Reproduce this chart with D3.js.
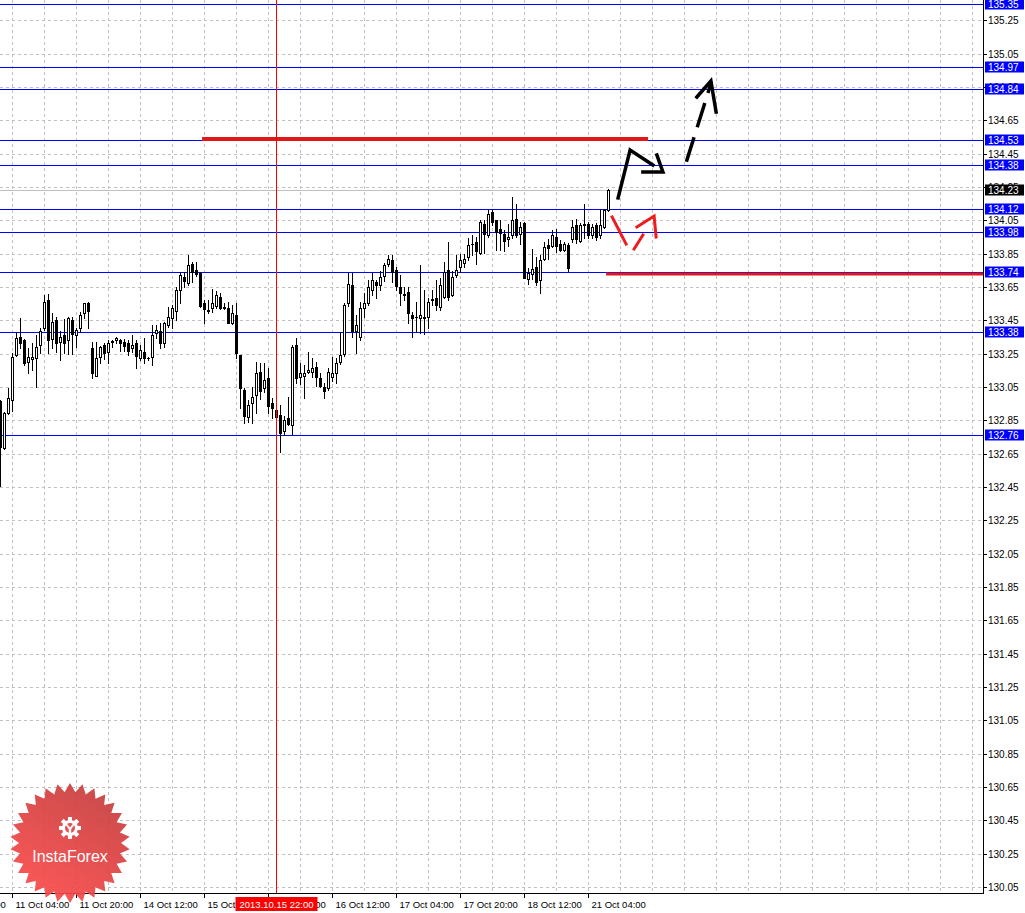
<!DOCTYPE html>
<html><head><meta charset="utf-8">
<script src="https://cdn.jsdelivr.net/npm/d3@7"></script>
<style>body{margin:0;background:#fff}svg{display:block}</style>
</head><body>
<svg id="c" width="1025" height="913"></svg>
<script>
// ---- data (EURJPY H1) ----
const open=[132.966,132.684,132.894,132.972,133.242,133.35,133.332,133.2,133.218,133.224,133.302,133.404,133.572,133.338,133.452,133.32,133.362,133.332,133.452,133.362,133.404,133.494,133.554,133.284,133.116,133.23,133.302,133.26,133.32,133.332,133.332,133.32,133.314,133.284,133.314,133.224,133.26,133.224,133.23,133.374,133.386,133.314,133.422,133.464,133.506,133.632,133.71,133.674,133.788,133.752,133.734,133.554,133.512,133.524,133.536,133.59,133.53,133.524,133.434,133.482,133.242,133.032,132.87,132.954,133.002,133.14,133.044,133.104,132.954,132.912,132.882,132.786,132.864,132.822,133.302,133.11,133.116,133.14,133.14,133.17,133.104,133.05,133.044,133.11,133.134,133.2,133.248,133.554,133.662,133.386,133.35,133.524,133.554,133.632,133.68,133.662,133.716,133.788,133.812,133.752,133.65,133.608,133.62,133.482,133.47,133.464,133.47,133.47,133.572,133.584,133.53,133.59,133.752,133.602,133.722,133.77,133.794,133.83,133.908,133.92,133.854,134.028,133.962,134.1,134.052,133.998,133.968,133.938,133.962,134.058,133.968,134.034,133.698,133.728,133.77,133.692,133.818,133.902,133.896,133.95,133.908,133.872,133.902,133.938,134.022,133.926,134.022,134.028,133.962,134.022,133.962,134.01,134.112];
const high=[132.972,132.9,133.044,133.254,133.38,133.464,133.338,133.284,133.314,133.362,133.404,133.602,133.608,133.494,133.47,133.386,133.458,133.47,133.47,133.404,133.5,133.554,133.56,133.32,133.32,133.296,133.314,133.332,133.332,133.35,133.338,133.338,133.332,133.362,133.332,133.302,133.344,133.23,133.422,133.422,133.434,133.44,133.53,133.542,133.65,133.74,133.74,133.842,133.8,133.8,133.74,133.572,133.572,133.638,133.626,133.614,133.554,133.56,133.542,133.554,133.242,133.044,132.972,133.05,133.2,133.194,133.194,133.164,132.984,132.942,132.942,132.876,132.99,133.302,133.344,133.194,133.182,133.26,133.224,133.2,133.134,133.074,133.164,133.23,133.224,133.38,133.554,133.734,133.734,133.482,133.56,133.614,133.692,133.734,133.692,133.746,133.794,133.842,133.842,133.77,133.722,133.65,133.65,133.5,133.56,133.782,133.632,133.584,133.632,133.692,133.704,133.8,133.92,133.746,133.842,133.848,133.848,133.944,133.962,133.95,134.052,134.052,134.112,134.118,134.052,134.052,133.992,134.028,134.19,134.148,134.04,134.04,133.764,133.878,133.83,133.842,133.92,133.938,133.992,133.998,133.932,133.92,133.914,134.052,134.058,134.034,134.148,134.04,134.028,134.034,134.118,134.118,134.238];
const low=[132.456,132.678,132.888,132.906,133.236,133.284,133.182,133.134,133.152,133.05,133.254,133.392,133.254,133.284,133.26,133.212,133.254,133.248,133.248,133.29,133.38,133.464,133.404,133.104,133.116,133.194,133.218,133.194,133.29,133.314,133.266,133.266,133.242,133.26,133.164,133.212,133.194,133.212,133.182,133.344,133.284,133.29,133.41,133.404,133.452,133.554,133.65,133.662,133.68,133.716,133.53,133.434,133.494,133.5,133.524,133.518,133.518,133.434,133.428,133.224,132.924,132.834,132.84,132.834,132.894,132.978,133.02,132.894,132.864,132.852,132.66,132.762,132.822,132.762,133.074,133.068,132.984,133.134,133.11,133.056,133.05,132.984,133.032,133.086,133.074,133.188,133.236,133.536,133.35,133.254,133.332,133.47,133.542,133.602,133.584,133.632,133.686,133.776,133.68,133.632,133.542,133.572,133.434,133.35,133.38,133.374,133.368,133.404,133.542,133.512,133.512,133.584,133.572,133.596,133.71,133.74,133.77,133.812,133.842,133.788,133.848,133.854,133.95,134.022,133.872,133.872,133.866,133.896,133.944,133.95,133.908,133.704,133.668,133.698,133.662,133.614,133.812,133.818,133.89,133.86,133.866,133.866,133.746,133.92,133.914,133.92,133.944,133.944,133.944,133.932,133.944,134.004,134.106];
const close=[132.69,132.894,132.984,133.23,133.344,133.314,133.194,133.23,133.23,133.29,133.386,133.56,133.332,133.44,133.314,133.35,133.314,133.464,133.368,133.392,133.482,133.554,133.506,133.134,133.224,133.29,133.254,133.314,133.326,133.344,133.314,133.296,133.266,133.302,133.236,133.272,133.224,133.224,133.362,133.392,133.314,133.434,133.47,133.524,133.632,133.722,133.686,133.782,133.74,133.728,133.536,133.518,133.506,133.554,133.602,133.524,133.524,133.434,133.494,133.254,133.044,132.876,132.942,132.99,133.134,133.026,133.092,132.936,132.924,132.87,132.774,132.852,132.828,133.29,133.104,133.134,133.134,133.152,133.164,133.11,133.056,133.026,133.14,133.134,133.194,133.242,133.542,133.668,133.386,133.422,133.524,133.554,133.65,133.692,133.662,133.71,133.782,133.818,133.74,133.656,133.614,133.602,133.494,133.464,133.47,133.482,133.464,133.56,133.578,133.542,133.662,133.74,133.59,133.71,133.752,133.812,133.818,133.902,133.908,133.866,134.04,133.968,134.088,134.04,133.98,133.974,133.926,133.95,134.052,133.962,134.01,133.704,133.734,133.758,133.68,133.812,133.89,133.884,133.962,133.896,133.872,133.908,133.764,134.01,133.938,134.022,134.028,133.962,134.01,133.95,134.022,134.112,134.232];

const levelPrices=[135.35,134.97,134.84,134.53,134.38,134.12,133.98,133.74,133.38,132.76];
const currentPrice=134.23;
const priceTicks=["130.05","130.25","130.45","130.65","130.85","131.05","131.25","131.45","131.65","131.85","132.05","132.25","132.45","132.65","132.85","133.05","133.25","133.45","133.65","133.85","134.05","134.25","134.45","134.65","134.85","135.05","135.25"];
const timeTickIdx=[-13,3,19,35,51,67,83,99,115,131,147];
const timeTickLabels=["10 Oct 12:00","11 Oct 04:00","11 Oct 20:00","14 Oct 12:00","15 Oct 04:00","15 Oct 20:00","16 Oct 12:00","17 Oct 04:00","17 Oct 20:00","18 Oct 12:00","21 Oct 04:00"];
const markerIdx=69, markerLabel="2013.10.15 22:00";
// annotation lines: [idx, price]
const redLineTop={from:50.4,to:161.9,price:134.538};
const redLineLow={from:151.4,to:246,price:133.728};
const blackArrow1=[[154.4,134.184],[157.4,134.472],[163.1,134.382]];
const blackHead1=[[160.6,134.34],[165.6,134.34],[164.1,134.442]];
const blackArrow2=[[171.6,134.412],[177.6,134.87]];
const blackHead2=[[174.1,134.79],[177.6,134.886],[178.9,134.7]];
const redArrowA=[[152.9,134.07],[156.4,133.908]];
const redArrowB=[[158.4,133.878],[160.6,133.962]];
const redHead=[[159.1,134.01],[163.4,134.076],[163.9,133.95]];

// ---- layout ----
const W=983, H=893;
const svg=d3.select("#c");
const x=d3.scaleLinear().domain([0,152]).range([0.5,608.5]);
const y=d3.scaleLinear().domain([130.05,135.372]).range([887,0]);
const py=p=>Math.round(y(p))+0.5;
const FONT="'Liberation Sans', Arial, sans-serif";

// grid
const grid=svg.append("g").attr("stroke","#c0c0c0").attr("stroke-dasharray","3,3").attr("shape-rendering","crispEdges");
priceTicks.forEach(t=>grid.append("line").attr("x1",0).attr("x2",W).attr("y1",py(+t)).attr("y2",py(+t)));
for(let i=3;x(i)<W;i+=8){grid.append("line").attr("x1",Math.floor(x(i))+0.5).attr("x2",Math.floor(x(i))+0.5).attr("y1",0).attr("y2",H);}

// level lines
const lv=svg.append("g").attr("shape-rendering","crispEdges");
levelPrices.forEach(p=>lv.append("line").attr("x1",0).attr("x2",W).attr("y1",py(p)).attr("y2",py(p)).attr("stroke","#0000ff"));
lv.append("line").attr("x1",0).attr("x2",W).attr("y1",py(currentPrice)).attr("y2",py(currentPrice)).attr("stroke","#c0c0c0");

// red horizontal lines
svg.append("line").attr("x1",x(redLineTop.from)).attr("x2",x(redLineTop.to)).attr("y1",y(redLineTop.price)).attr("y2",y(redLineTop.price)).attr("stroke","#e01818").attr("stroke-width",4);
svg.append("line").attr("x1",x(redLineLow.from)).attr("x2",Math.min(W,x(redLineLow.to))).attr("y1",y(redLineLow.price)).attr("y2",y(redLineLow.price)).attr("stroke","#e01818").attr("stroke-width",3);

// candles
const cg=svg.append("g").attr("shape-rendering","crispEdges");
open.forEach((o,i)=>{
  const c=close[i], h=high[i], l=low[i];
  const cx=Math.floor(x(i))+0.5;
  cg.append("line").attr("x1",cx).attr("x2",cx).attr("y1",py(h)-0.5).attr("y2",py(l)+0.5).attr("stroke","#000");
  const yt=py(Math.max(o,c)), yb=py(Math.min(o,c));
  if(yb-yt<1){
    cg.append("line").attr("x1",cx-1.5).attr("x2",cx+1.5).attr("y1",yt).attr("y2",yt).attr("stroke","#000");
  } else {
    cg.append("rect").attr("x",cx-1).attr("y",yt).attr("width",2).attr("height",yb-yt)
      .attr("fill",c>=o?"#fff":"#000").attr("stroke","#000");
  }
});

// vertical red marker
svg.append("line").attr("x1",Math.floor(x(markerIdx))+0.5).attr("x2",Math.floor(x(markerIdx))+0.5).attr("y1",0).attr("y2",H).attr("stroke","#ff0000").attr("shape-rendering","crispEdges");

// arrows
const ln=d3.line().x(d=>x(d[0])).y(d=>y(d[1]));
function path(pts,col,w,dash){const p=svg.append("path").attr("d",ln(pts)).attr("fill","none").attr("stroke",col).attr("stroke-width",w).attr("stroke-linecap","square").attr("stroke-linejoin","miter");if(dash)p.attr("stroke-dasharray",dash);return p;}
path(blackArrow1,"#000",3.5);
path(blackHead1,"#000",3.5);
path(blackArrow2,"#000",3.5,"22,14");
path(blackHead2,"#000",3.5);
path(redArrowA,"#ee1c1c",3);
path(redArrowB,"#ee1c1c",3);
path(redHead,"#ee1c1c",3);

// axes
const ax=svg.append("g").attr("shape-rendering","crispEdges");
ax.append("line").attr("x1",W+0.5).attr("x2",W+0.5).attr("y1",0).attr("y2",H+0.5).attr("stroke","#000");
ax.append("line").attr("x1",0).attr("x2",W+0.5).attr("y1",H+0.5).attr("y2",H+0.5).attr("stroke","#000");
priceTicks.forEach(t=>{
  ax.append("line").attr("x1",W).attr("x2",W+4).attr("y1",py(+t)).attr("y2",py(+t)).attr("stroke","#000");
  svg.append("text").attr("x",988).attr("y",py(+t)+3.5).attr("font-family",FONT).attr("font-size","10px").attr("fill","#000").text(t);
});
timeTickIdx.forEach((ti,k)=>{
  const tx=Math.floor(x(ti))+0.5;
  ax.append("line").attr("x1",tx).attr("x2",tx).attr("y1",H).attr("y2",H+5).attr("stroke","#000");
  svg.append("text").attr("x",tx+3).attr("y",908).attr("font-family",FONT).attr("font-size","9.5px").attr("fill","#000").text(timeTickLabels[k]);
});

// level labels
const fmt=d3.format(".2f");
levelPrices.forEach(p=>{
  svg.append("rect").attr("x",985).attr("y",py(p)-6).attr("width",39).attr("height",11).attr("fill","#0000ff");
  svg.append("text").attr("x",988).attr("y",py(p)+3.5).attr("font-family",FONT).attr("font-size","10px").attr("fill","#fff").text(fmt(p));
});
svg.append("rect").attr("x",985).attr("y",py(currentPrice)-6).attr("width",39).attr("height",11).attr("fill","#000");
svg.append("text").attr("x",988).attr("y",py(currentPrice)+3.5).attr("font-family",FONT).attr("font-size","10px").attr("fill","#fff").text(fmt(currentPrice));

// marker label
const mx=Math.floor(x(markerIdx))+0.5;
svg.append("rect").attr("x",mx-41).attr("y",897).attr("width",82).attr("height",14).attr("fill","#ff0000");
svg.append("text").attr("x",mx).attr("y",908).attr("text-anchor","middle").attr("font-family",FONT).attr("font-size","9.5px").attr("fill","#fff").text(markerLabel);

// logo
const defs=svg.append("defs");
const gr=defs.append("linearGradient").attr("id","lg").attr("x1","0.8").attr("y1","0").attr("x2","0.2").attr("y2","1");
gr.append("stop").attr("offset","0").attr("stop-color","#c43c3c");
gr.append("stop").attr("offset","1").attr("stop-color","#ff4a4a");
const cxL=70, cyL=843, N=30, R=60, r=51;
const pts=[];
for(let k=0;k<2*N;k++){const a=-Math.PI/2+k*Math.PI/N;const rr=k%2===0?R:r;pts.push([cxL+rr*Math.cos(a),cyL+rr*Math.sin(a)]);}
const logo=svg.append("g").attr("opacity",0.92);
logo.append("path").attr("d","M"+pts.map(p=>p.join(",")).join("L")+"Z").attr("fill","url(#lg)");
// gear icon
const gx=70, gy=828;
const teeth=[];
for(let k=0;k<8;k++){const a=k*Math.PI/4;teeth.push(k);}
teeth.forEach(k=>logo.append("rect").attr("x",gx-2).attr("y",gy-11).attr("width",4).attr("height",5).attr("fill","#fff").attr("transform",`rotate(${k*45},${gx},${gy})`));
logo.append("circle").attr("cx",gx).attr("cy",gy).attr("r",8).attr("fill","#fff");
logo.append("circle").attr("cx",gx).attr("cy",gy).attr("r",5).attr("fill","#e04646");
logo.append("path").attr("d",`M${gx-4},${gy-4} L${gx},${gy+1} L${gx+4},${gy-4}`).attr("stroke","#fff").attr("stroke-width",2).attr("fill","none");
logo.append("rect").attr("x",gx-1.2).attr("y",gy).attr("width",2.4).attr("height",11).attr("fill","#fff");
logo.append("text").attr("x",70).attr("y",862).attr("text-anchor","middle").attr("font-family",FONT).attr("font-size","16px").attr("fill","#fff").text("InstaForex");
</script>
</body></html>
